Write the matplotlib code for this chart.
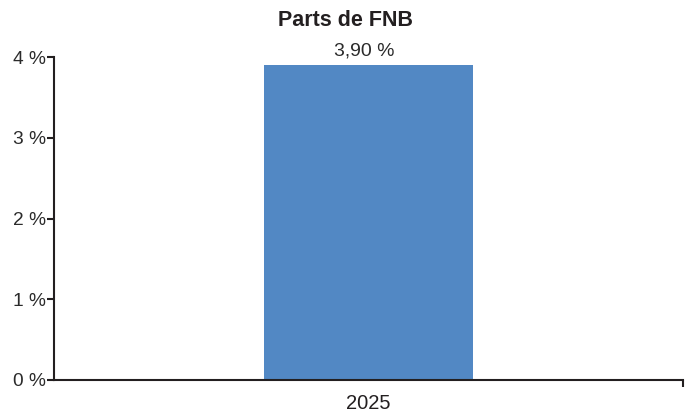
import matplotlib.pyplot as plt
from matplotlib.ticker import FuncFormatter

# ----------------
# data
# ----------------
categories = ['2025']
values = [3.90]
value_labels = ['3,90 %']
y_ticks = [0, 1, 2, 3, 4]

title = 'Parts de FNB'
bar_color = '#5288c4'
text_color = '#231f20'

plt.rcParams['font.family'] = ['Liberation Sans', 'DejaVu Sans']

fig = plt.figure(figsize=(6.92, 4.17), dpi=100)
ax = fig.add_axes([54 / 692, 1 - 380 / 417, (683 - 54) / 692, (380 - 57) / 417])

x = list(range(len(categories)))
bars = ax.bar(x, values, width=0.333, color=bar_color, zorder=2)

for xi, v, lab in zip(x, values, value_labels):
    ax.annotate(lab, (xi, v), xytext=(-3, 4), textcoords='offset points',
                ha='center', va='bottom', fontsize=14, color='#2b2b2b')

ax.set_xlim(-0.5, len(categories) - 0.5)
ax.set_ylim(0, 4)
ax.set_yticks(y_ticks)
ax.yaxis.set_major_formatter(FuncFormatter(lambda v, p: '%d %%' % v))

ax.set_xticks(x)
ax.set_xticklabels(categories)
# only the right end of the category band gets a tick
ax.set_xticks([len(categories) - 0.5], minor=True)
ax.tick_params(axis='x', which='major', length=0, pad=10, labelsize=14.5, colors=text_color)
ax.tick_params(axis='x', which='minor', length=5, width=1.5, color=text_color)
ax.tick_params(axis='y', length=5, width=1.5, pad=0.5, labelsize=13.8, colors='#2b2b2b')
ax.yaxis.set_tick_params(color=text_color)

for side in ['top', 'right']:
    ax.spines[side].set_visible(False)
for side in ['left', 'bottom']:
    ax.spines[side].set_linewidth(1.5)
    ax.spines[side].set_color(text_color)

fig.text(346 / 692, 1 - 21 / 417, title, ha='center', va='center',
         fontsize=15.5, fontweight='bold', color=text_color)

fig.savefig('out.png', dpi=100)
